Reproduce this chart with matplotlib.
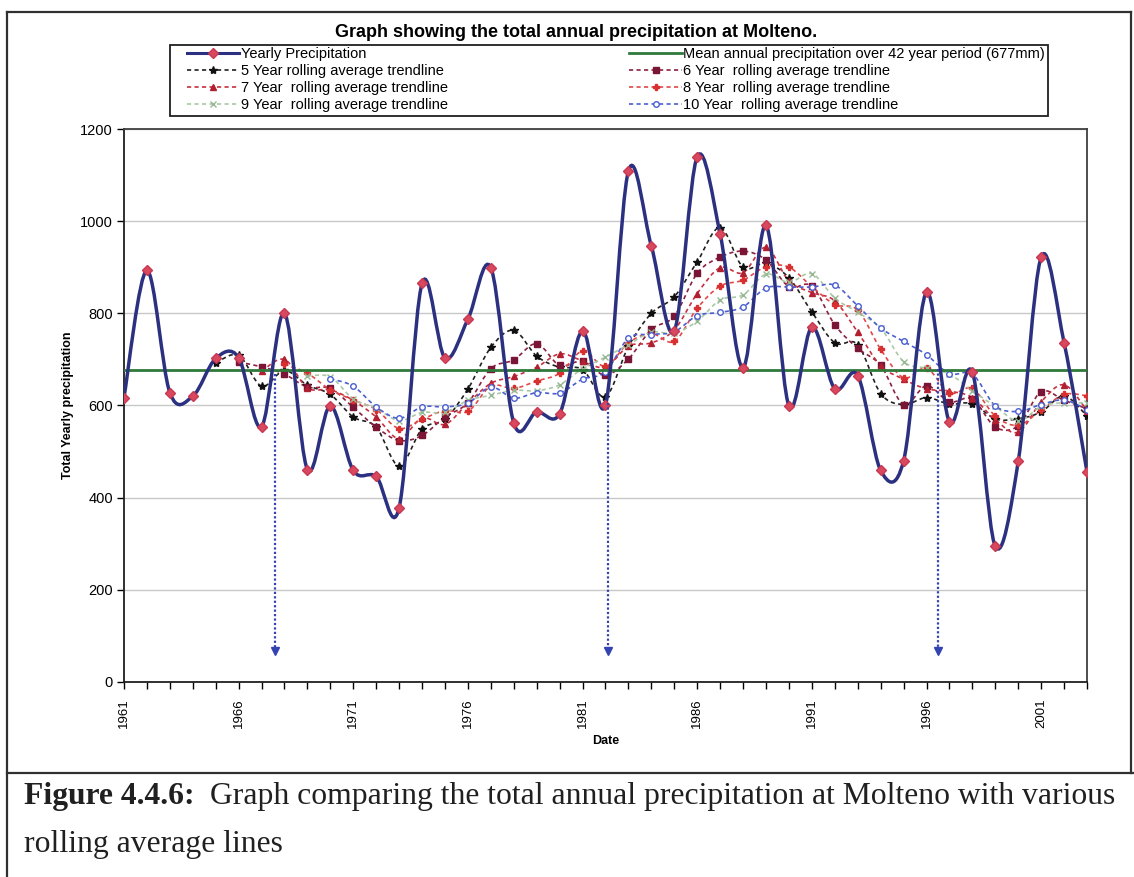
import numpy as np
import matplotlib.pyplot as plt
from matplotlib.path import Path
from matplotlib.patches import PathPatch, Rectangle
from matplotlib.lines import Line2D
from matplotlib.ticker import FixedLocator, MultipleLocator

# data (mm)
years = list(range(1961, 2004))
yearly = [617, 893, 628, 620, 702, 704, 554, 800, 461, 599,
          459, 446, 378, 865, 703, 787, 899, 562, 586, 582,
          762, 602, 1109, 946, 762, 1140, 972, 682, 991, 599,
          770, 636, 665, 459, 480, 846, 564, 672, 294, 479,
          922, 736, 455]
mean_precip = 677

# rolling averages, each series starts at the end of its first full window
avg5 = [692, 709, 642, 676, 644, 624, 575, 553, 469, 549,
        570, 636, 726, 763, 707, 683, 678, 619, 728, 800,
        836, 912, 986, 900, 909, 877, 803, 736, 732, 626,
        602, 617, 603, 604, 571, 571, 586, 621, 577]
avg6 = [694, 684, 668, 640, 637, 596, 553, 524, 535, 575,
        606, 680, 699, 734, 687, 696, 666, 701, 765, 794,
        887, 922, 935, 916, 858, 859, 775, 724, 687, 602,
        643, 608, 614, 553, 556, 630, 611, 593]
avg7 = [674, 700, 638, 634, 611, 575, 528, 573, 559, 605,
        648, 663, 683, 712, 697, 683, 729, 736, 764, 843,
        899, 888, 943, 870, 845, 827, 759, 686, 657, 636,
        631, 617, 569, 542, 608, 645, 589]
avg8 = [690, 670, 634, 612, 591, 550, 570, 589, 587, 642,
        637, 653, 670, 718, 685, 736, 756, 739, 811, 859,
        872, 901, 900, 858, 819, 807, 722, 660, 681, 627,
        637, 577, 557, 590, 624, 621]
avg9 = [664, 662, 614, 594, 567, 585, 585, 611, 622, 633,
        632, 645, 680, 705, 732, 759, 757, 783, 829, 840,
        885, 867, 886, 833, 802, 768, 695, 681, 668, 632,
        598, 566, 598, 606, 605]
avg10 = [658, 642, 597, 572, 597, 597, 605, 640, 616, 628,
         627, 657, 673, 746, 754, 760, 795, 802, 814, 855,
         857, 857, 861, 816, 768, 739, 710, 669, 668, 599,
         587, 602, 612, 591]

legend_labels = ['Yearly Precipitation',
                 '5 Year rolling average trendline',
                 '7 Year  rolling average trendline',
                 '9 Year  rolling average trendline',
                 'Mean annual precipitation over 42 year period (677mm)',
                 '6 Year  rolling average trendline',
                 '8 Year  rolling average trendline',
                 '10 Year  rolling average trendline']

# dotted arrows marking the turning points
arrow_x = [1967.6, 1982.1, 1996.5]
arrow_top = [668, 605, 680]
arrow_bottom = 68


def smooth_path(x, y):
    # excel style smoothed line: bezier through every point
    x = np.asarray(x, float)
    y = np.asarray(y, float)
    n = len(x)
    verts = [(x[0], y[0])]
    codes = [Path.MOVETO]
    for i in range(n - 1):
        xa, ya = (x[i - 1], y[i - 1]) if i > 0 else (x[i], y[i])
        xd, yd = (x[i + 2], y[i + 2]) if i + 2 < n else (x[i + 1], y[i + 1])
        c1 = (x[i] + (x[i + 1] - xa) / 6, y[i] + (y[i + 1] - ya) / 6)
        c2 = (x[i + 1] - (xd - x[i]) / 6, y[i + 1] - (yd - y[i]) / 6)
        verts += [c1, c2, (x[i + 1], y[i + 1])]
        codes += [Path.CURVE4] * 3
    return Path(verts, codes)


plt.rcParams['font.family'] = ['Liberation Sans', 'DejaVu Sans']

fig = plt.figure(figsize=(11.34, 8.77), dpi=100)
ax = fig.add_axes([0.1093, 0.2224, 0.8493, 0.6305])

dash = (0, (2.5, 2.0))
styles = [
    (avg5, 5, '#202020', '*', '#101010', 6),
    (avg6, 6, '#8B2040', 's', '#7A1535', 4),
    (avg7, 7, '#C83040', '^', '#B02030', 4.5),
    (avg8, 8, '#E04848', 'P', '#D83030', 5),
    (avg9, 9, '#A9C9A4', 'x', '#98B894', 4),
    (avg10, 10, '#4A5FD0', 'o', '#4A5FD0', 4),
]
handles = {}
for vals, w, col, mk, mcol, ms in styles:
    xs = years[w - 1:]
    ax.add_patch(PathPatch(smooth_path(xs, vals), fill=False, edgecolor=col,
                           lw=1.2, linestyle=dash, zorder=3))
    face = 'white' if mk == 'o' else mcol
    ax.plot(xs, vals, linestyle='none', marker=mk, markersize=ms,
            markerfacecolor=face, markeredgecolor=mcol, mew=1, zorder=4)
    handles[w] = Line2D([], [], color=col, lw=1.2, linestyle=dash, marker=mk,
                        markersize=ms, markerfacecolor=face, markeredgecolor=mcol)

ax.plot([years[0], years[-1]], [mean_precip, mean_precip], color='#2F7A3A',
        lw=2, zorder=5)

ax.add_patch(PathPatch(smooth_path(years, yearly), fill=False,
                       edgecolor='#2B3180', lw=2.5, zorder=6))
ax.plot(years, yearly, linestyle='none', marker='D', markersize=5.5,
        markerfacecolor='#D8485E', markeredgecolor='#C83850', zorder=7)

for xa, ya in zip(arrow_x, arrow_top):
    ax.plot([xa, xa], [ya, arrow_bottom], color='#3343B0', lw=1.6,
            linestyle=(0, (1, 1)), zorder=8)
    ax.plot([xa], [arrow_bottom], marker='v', markersize=6, color='#3343B0',
            zorder=8)

ax.set_xlim(years[0], years[-1])
ax.set_ylim(0, 1200)
ax.yaxis.set_major_locator(MultipleLocator(200))
ax.xaxis.set_major_locator(FixedLocator(years[::5]))
ax.xaxis.set_minor_locator(MultipleLocator(1))
ax.tick_params(axis='x', which='both', direction='out', length=5, width=1,
               labelsize=9.5, rotation=90, pad=7)
ax.tick_params(axis='y', direction='out', length=5, width=1, labelsize=10.5,
               pad=3)
ax.grid(axis='y', color='#C8C8C8', lw=1)
ax.set_axisbelow(True)
for side in ['left', 'bottom']:
    ax.spines[side].set_linewidth(1.3)
    ax.spines[side].set_color('#202020')
for side in ['top', 'right']:
    ax.spines[side].set_linewidth(1.3)
    ax.spines[side].set_color('#404040')

ax.set_xlabel('Date', fontsize=9, fontweight='bold')
ax.set_ylabel('Total Yearly precipitation', fontsize=9, fontweight='bold')
ax.xaxis.set_label_coords(0.5, -0.096)
ax.yaxis.set_label_coords(-0.052, 0.5)

h_year = Line2D([], [], color='#2B3180', lw=2.2, marker='D', markersize=5,
                markerfacecolor='#D8485E', markeredgecolor='#C83850')
h_mean = Line2D([], [], color='#2F7A3A', lw=2)
leg_handles = [h_year, handles[5], handles[7], handles[9],
               h_mean, handles[6], handles[8], handles[10]]
fig.legend(leg_handles, legend_labels, loc='upper left',
           bbox_to_anchor=(0.1649, 0.8677, 0.7566, 0.0787), mode='expand',
           ncol=2, fontsize=10.5, handlelength=3.6, handletextpad=0.1,
           labelspacing=0.2, borderpad=0, borderaxespad=0, frameon=False)
fig.add_artist(Rectangle((0.1499, 0.8677), 0.7743, 0.081, fill=False,
                         edgecolor='#202020', lw=1.3,
                         transform=fig.transFigure))

fig.text(0.508, 0.9624, 'Graph showing the total annual precipitation at Molteno.',
         ha='center', va='center', fontsize=13, fontweight='bold',
         family=['Liberation Sans Narrow', 'Liberation Sans'])

# frame of the figure cell and caption
frame_kw = dict(color='#303030', lw=1.6, transform=fig.transFigure)
fig.add_artist(Line2D([0.0062, 0.9974], [0.9863, 0.9863], **frame_kw))
fig.add_artist(Line2D([0.0062, 0.0062], [0.0, 0.9863], **frame_kw))
fig.add_artist(Line2D([0.9974, 0.9974], [0.1186, 0.9863], **frame_kw))
fig.add_artist(Line2D([0.0062, 1.0], [0.1186, 0.1186], **frame_kw))

serif = ['Liberation Serif', 'DejaVu Serif']
t1 = fig.text(0.021, 0.0832, 'Figure 4.4.6:', fontsize=22.8, fontweight='bold',
              family=serif, va='baseline', color='#202020')
fig.text(0.021, 0.0285, 'rolling average lines', fontsize=22.8, family=serif,
         va='baseline', color='#202020')
ax.annotate('Graph comparing the total annual precipitation at Molteno with various',
            xy=(1, 0), xycoords=t1, xytext=(11, 0), textcoords='offset points',
            fontsize=22.8, family=serif, va='bottom', ha='left', color='#202020',
            annotation_clip=False)

fig.savefig('out.png', dpi=100)
